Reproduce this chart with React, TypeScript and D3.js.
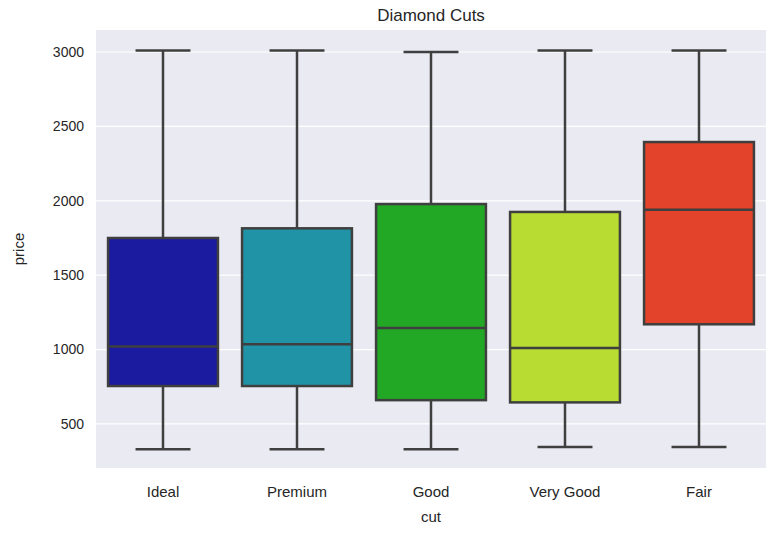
import React from "react";
import * as d3 from "d3";

const cuts = ["Ideal", "Premium", "Good", "Very Good", "Fair"];
const lows = [330, 330, 330, 345, 345];
const q1s = [755, 755, 660, 645, 1170];
const medians = [1020, 1035, 1145, 1010, 1940];
const q3s = [1750, 1815, 1978, 1925, 2395];
const highs = [3010, 3010, 3000, 3010, 3010];
const colors = ["#1a1b9f", "#2193a6", "#22a825", "#b8dc32", "#e2432a"];
const yTicks = [500, 1000, 1500, 2000, 2500, 3000];

const W = 776, H = 534;
const m = { top: 30, right: 10, bottom: 66, left: 96 };

export default function App() {
  const x = d3.scaleBand().domain(cuts).range([m.left, W - m.right]).paddingInner(0).paddingOuter(0);
  const y = d3.scaleLinear().domain([204, 3148]).range([H - m.bottom, m.top]);
  const bw = x.bandwidth() * 0.82;
  const cap = bw * 0.5;
  const line = "#3f3f3f";
  const font = "Arial, 'Liberation Sans', sans-serif";
  return (
    <svg width={W} height={H} style={{ position: "absolute", left: 0, top: 0 }} fontFamily={font}>
      <rect x={m.left} y={m.top} width={W - m.left - m.right} height={H - m.top - m.bottom} fill="#eaeaf2" />
      {yTicks.map((t) => (
        <g key={t}>
          <line x1={m.left} x2={W - m.right} y1={y(t)} y2={y(t)} stroke="#fff" strokeWidth={1.2} />
          <text x={m.left - 12} y={y(t)} dy="0.35em" textAnchor="end" fontSize={14} fill="#262626">{t}</text>
        </g>
      ))}
      {cuts.map((c, i) => {
        const cx = x(c)! + x.bandwidth() / 2;
        return (
          <g key={c} stroke={line} strokeWidth={2.5}>
            <line x1={cx} x2={cx} y1={y(highs[i])} y2={y(q3s[i])} />
            <line x1={cx} x2={cx} y1={y(q1s[i])} y2={y(lows[i])} />
            <line x1={cx - cap / 2} x2={cx + cap / 2} y1={y(highs[i])} y2={y(highs[i])} />
            <line x1={cx - cap / 2} x2={cx + cap / 2} y1={y(lows[i])} y2={y(lows[i])} />
            <rect x={cx - bw / 2} y={y(q3s[i])} width={bw} height={y(q1s[i]) - y(q3s[i])} fill={colors[i]} />
            <line x1={cx - bw / 2} x2={cx + bw / 2} y1={y(medians[i])} y2={y(medians[i])} />
            <text x={cx} y={H - m.bottom + 29} textAnchor="middle" fontSize={15} fill="#262626" stroke="none">{c}</text>
          </g>
        );
      })}
      <text x={(m.left + W - m.right) / 2} y={H - 12} textAnchor="middle" fontSize={15} fill="#262626">cut</text>
      <text transform={`translate(24,${(m.top + H - m.bottom) / 2}) rotate(-90)`} textAnchor="middle" fontSize={15} fill="#262626">price</text>
      <text x={(m.left + W - m.right) / 2} y={21} textAnchor="middle" fontSize={17} fill="#262626">Diamond Cuts</text>
    </svg>
  );
}
